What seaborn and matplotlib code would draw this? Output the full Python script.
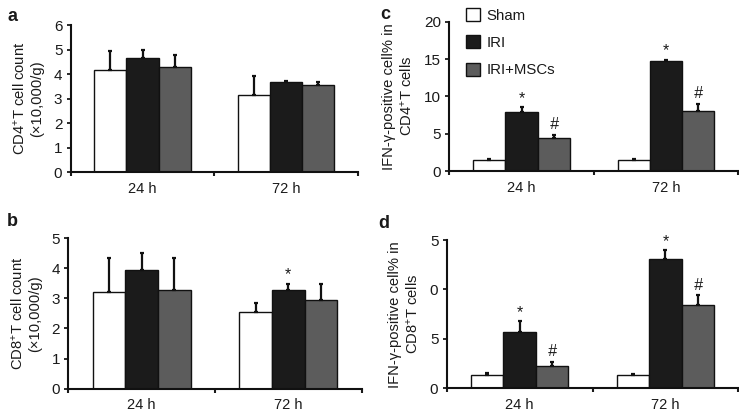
import numpy as np
import pandas as pd
import matplotlib
matplotlib.use("Agg")
import matplotlib.pyplot as plt
import seaborn as sns
from matplotlib.patches import Patch

# ---------------- data ----------------
groups = ["Sham", "IRI", "IRI+MSCs"]
times = ["24 h", "72 h"]

# panel a: CD4+ T cell count
a_sham = [4.17, 3.15]
a_iri = [4.68, 3.67]
a_msc = [4.31, 3.57]
a_sham_err = [0.78, 0.78]
a_iri_err = [0.32, 0.06]
a_msc_err = [0.47, 0.12]

# panel b: CD8+ T cell count
b_sham = [3.20, 2.55]
b_iri = [3.93, 3.27]
b_msc = [3.27, 2.94]
b_sham_err = [1.13, 0.28]
b_iri_err = [0.56, 0.22]
b_msc_err = [1.06, 0.53]

# panel c: IFN-gamma positive % in CD4+ T cells
c_sham = [1.45, 1.50]
c_iri = [7.90, 14.75]
c_msc = [4.45, 8.10]
c_sham_err = [0.15, 0.10]
c_iri_err = [0.65, 0.15]
c_msc_err = [0.40, 0.85]

# panel d: IFN-gamma positive % in CD8+ T cells
d_sham = [1.30, 1.30]
d_iri = [5.70, 13.05]
d_msc = [2.30, 8.40]
d_sham_err = [0.20, 0.18]
d_iri_err = [1.10, 0.90]
d_msc_err = [0.35, 1.00]

a_yticks = [0, 1, 2, 3, 4, 5, 6]
b_yticks = [0, 1, 2, 3, 4, 5]
c_yticks = [0, 5, 10, 15, 20]
d_yticks = [0, 5, 10, 15]
d_yticklabels = ["0", "5", "0", "5"]

# significance marks: (group, time, symbol)
b_marks = [("IRI", "72 h", "*")]
c_marks = [("IRI", "24 h", "*"), ("IRI", "72 h", "*"),
           ("IRI+MSCs", "24 h", "#"), ("IRI+MSCs", "72 h", "#")]
d_marks = c_marks

colors = {"Sham": "#ffffff", "IRI": "#1b1b1b", "IRI+MSCs": "#5c5c5c"}

# ---------------- style ----------------
sns.set_style("ticks")
plt.rcParams["font.family"] = ["Liberation Sans", "DejaVu Sans"]
plt.rcParams["mathtext.fontset"] = "custom"
plt.rcParams["mathtext.rm"] = "Liberation Sans"
plt.rcParams["mathtext.it"] = "Liberation Sans:italic"
plt.rcParams["text.color"] = "#1a1a1a"
plt.rcParams["axes.labelcolor"] = "#1a1a1a"
plt.rcParams["xtick.color"] = "#1a1a1a"
plt.rcParams["ytick.color"] = "#1a1a1a"

fig = plt.figure(figsize=(7.39, 4.15), dpi=100)
W, H = 739.0, 415.0


def add_ax(left, right, top, bottom):
    return fig.add_axes([left / W, 1 - bottom / H, (right - left) / W, (bottom - top) / H])


def panel(ax, sham, iri, msc, sham_e, iri_e, msc_e, ylim, yticks, ylabel,
          yticklabels=None, marks=()):
    df = pd.DataFrame({
        "time": times * 3,
        "group": [g for g in groups for _ in times],
        "value": list(sham) + list(iri) + list(msc),
        "err": list(sham_e) + list(iri_e) + list(msc_e),
    })
    sns.barplot(data=df, x="time", y="value", hue="group", order=times,
                hue_order=groups, palette=colors, saturation=1, width=0.67,
                errorbar=None, edgecolor="#111111", linewidth=1.0,
                legend=False, ax=ax)
    tops = {}
    for i, g in enumerate(groups):
        for j, t in enumerate(times):
            p = ax.patches[i * len(times) + j]
            x = p.get_x() + p.get_width() / 2
            h = p.get_height()
            e = df.loc[(df.group == g) & (df.time == t), "err"].iloc[0]
            ax.errorbar(x, h, yerr=[[0], [e]], fmt="none", ecolor="#111111",
                        elinewidth=1.6, capsize=1.6, capthick=1.6, zorder=3)
            tops[(g, t)] = (x, h + e)
    for g, t, s in marks:
        x, y = tops[(g, t)]
        if s == "*":
            ax.annotate(s, (x, y), xytext=(0, 1), textcoords="offset points",
                        ha="center", va="bottom", fontsize=11.5)
        else:
            ax.annotate(s, (x, y), xytext=(0, 2), textcoords="offset points",
                        ha="center", va="bottom", fontsize=11.5, style="italic")
    ax.set_xlim(-0.5, 1.5)
    ax.set_ylim(*ylim)
    ax.set_xticks([0, 1])
    ax.set_xticklabels(times)
    ax.set_xticks([-0.5, 0.5, 1.5], minor=True)
    ax.set_yticks(yticks)
    if yticklabels is not None:
        ax.set_yticklabels(yticklabels)
    ax.tick_params(axis="x", which="major", length=0, pad=7, labelsize=10.5)
    ax.tick_params(axis="x", which="minor", length=3, width=1.5, direction="out")
    ax.tick_params(axis="y", which="major", length=3, width=1.3, direction="out",
                   pad=3, labelsize=11)
    for s in ("top", "right"):
        ax.spines[s].set_visible(False)
    for s in ("left", "bottom"):
        ax.spines[s].set_linewidth(1.5)
        ax.spines[s].set_color("#111111")
    ax.set_xlabel("")
    ax.set_ylabel(ylabel, fontsize=10.6, linespacing=1.2, labelpad=7)


ax_a = add_ax(70.7, 358, 25.3, 172)
ax_c = add_ax(449.3, 738.3, 21.7, 171)
ax_b = add_ax(68.3, 361.7, 238, 388.7)
ax_d = add_ax(446.7, 738.3, 240, 388.3)

panel(ax_a, a_sham, a_iri, a_msc, a_sham_err, a_iri_err, a_msc_err, (0, 6), a_yticks,
      "CD4$^{+}$T cell count\n(×10,000/g)")
panel(ax_b, b_sham, b_iri, b_msc, b_sham_err, b_iri_err, b_msc_err, (0, 5), b_yticks,
      "CD8$^{+}$T cell count\n(×10,000/g)", marks=b_marks)
panel(ax_c, c_sham, c_iri, c_msc, c_sham_err, c_iri_err, c_msc_err, (0, 20), c_yticks,
      "IFN-γ-positive cell% in\nCD4$^{+}$T cells", marks=c_marks)
panel(ax_d, d_sham, d_iri, d_msc, d_sham_err, d_iri_err, d_msc_err, (0, 15), d_yticks,
      "IFN-γ-positive cell% in\nCD8$^{+}$T cells", yticklabels=d_yticklabels, marks=d_marks)

handles = [Patch(facecolor=colors[g], edgecolor="#111111", linewidth=1.0) for g in groups]
fig.legend(handles, groups, loc="upper left", bbox_to_anchor=(466 / W, 1 - 8.0 / H),
           frameon=False, fontsize=10.8, borderpad=0, borderaxespad=0,
           handlelength=0.95, handleheight=0.95, handletextpad=0.42, labelspacing=0.85)

for lab, x, y in [("a", 7, 8), ("c", 380, 6), ("b", 7, 213), ("d", 378, 215)]:
    fig.text(x / W, 1 - y / H, lab, fontsize=13, fontweight="bold", va="top", ha="left")

fig.savefig("out.png", dpi=100)
